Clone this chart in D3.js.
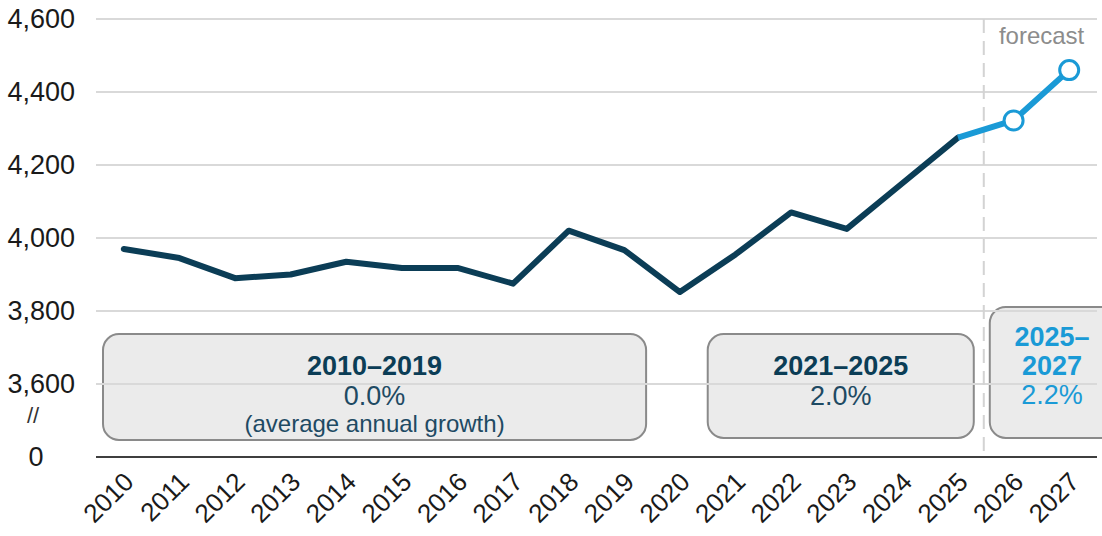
<!DOCTYPE html>
<html><head><meta charset="utf-8">
<script src="https://cdn.jsdelivr.net/npm/d3@7"></script>
<style>
html,body{margin:0;padding:0;background:#fff;}
svg{display:block;font-family:"Liberation Sans",Arial,sans-serif;}
</style></head>
<body><svg id="c" width="1102" height="536"></svg>
<script>
const years = ["2010","2011","2012","2013","2014","2015","2016","2017","2018","2019","2020","2021","2022","2023","2024","2025","2026","2027"];
const actualYears = years.slice(0, 16);
const actualValues = [3970, 3945, 3890, 3900, 3935, 3918, 3918, 3875, 4020, 3967, 3852, 3955, 4070, 4025, 4150, 4275];
const forecastYears = ["2025","2026","2027"];
const forecastValues = [4275, 4322, 4460];
const yTickValues = [3400, 3600, 3800, 4000, 4200, 4400, 4600];
const yTickLabels = ["0", "3,600", "3,800", "4,000", "4,200", "4,400", "4,600"];
const periodStart = ["2010", "2021", "2026"];
const periodEnd = ["2019", "2025", "2027"];
const periodTitle = [["2010–2019"], ["2021–2025"], ["2025–", "2027"]];
const periodGrowth = ["0.0%", "2.0%", "2.2%"];
const periodNote = ["(average annual growth)", "", ""];

const dark = "#0b3d56", blue = "#1a9ad6";
const svg = d3.select("#c");
const L = 96, R = 1097, T = 19, B = 457;
const x = d3.scaleBand().domain(years).range([L, R]).padding(0);
const bw = x.bandwidth();
const cx = d => x(d) + bw / 2;
const y = d3.scaleLinear().domain([3400, 4600]).range([B, T]);

// boxes
const boxGeo = [
  {x0: x(periodStart[0]) + 7, x1: x(periodEnd[0]) + bw - 6, y0: 334, y1: 440},
  {x0: x(periodStart[1]) + 0, x1: x(periodEnd[1]) + bw - 12, y0: 334, y1: 438},
  {x0: x(periodStart[2]) + 4, x1: 1120, y0: 307, y1: 438}
];
svg.append("g").selectAll("rect").data(boxGeo).join("rect")
  .attr("x", d => d.x0).attr("y", d => d.y0)
  .attr("width", d => d.x1 - d.x0).attr("height", d => d.y1 - d.y0)
  .attr("rx", 16).attr("ry", 16)
  .attr("fill", "#ebebeb").attr("stroke", "#8a8a8a").attr("stroke-width", 2);

// gridlines
svg.append("g").selectAll("line").data(yTickValues.slice(1)).join("line")
  .attr("x1", L).attr("x2", R).attr("y1", d => y(d)).attr("y2", d => y(d))
  .attr("stroke", "#d9d9d9").attr("stroke-width", 2);

// forecast divider
const divX = x("2026");
svg.append("line").attr("x1", divX - 2).attr("x2", divX - 2).attr("y1", T).attr("y2", B)
  .attr("stroke", "#d3d3d3").attr("stroke-width", 2).attr("stroke-dasharray", "14,8");
svg.append("text").attr("x", cx("2026") + 28).attr("y", 44).attr("text-anchor", "middle")
  .attr("font-size", 24).attr("fill", "#8c8c8c").text("forecast");

// baseline
svg.append("line").attr("x1", L).attr("x2", R).attr("y1", B).attr("y2", B)
  .attr("stroke", "#3f3f3f").attr("stroke-width", 2);

// y labels
svg.append("g").selectAll("text").data(yTickValues).join("text")
  .attr("x", (d, i) => i === 0 ? 36 : 75)
  .attr("y", d => y(d)).attr("dy", "0.35em")
  .attr("text-anchor", (d, i) => i === 0 ? "middle" : "end")
  .attr("font-size", 27).attr("fill", "#1a1a1a")
  .text((d, i) => yTickLabels[i]);
svg.append("text").attr("x", 33).attr("y", 423).attr("text-anchor", "middle")
  .attr("font-size", 22).attr("fill", "#333").text("//");

// x labels
svg.append("g").selectAll("text").data(years).join("text")
  .attr("transform", d => `translate(${cx(d) + 5},${477}) rotate(-45)`)
  .attr("text-anchor", "end").attr("dy", "0.35em")
  .attr("font-size", 26).attr("fill", "#1a1a1a").text(d => d);

// lines
const line = d3.line().x(d => cx(d[0])).y(d => y(d[1]));
svg.append("path").datum(actualYears.map((d, i) => [d, actualValues[i]]))
  .attr("d", line).attr("fill", "none").attr("stroke", dark).attr("stroke-width", 6)
  .attr("stroke-linejoin", "round").attr("stroke-linecap", "round");
svg.append("path").datum(forecastYears.map((d, i) => [d, forecastValues[i]]))
  .attr("d", line).attr("fill", "none").attr("stroke", blue).attr("stroke-width", 6)
  .attr("stroke-linejoin", "round");
svg.append("g").selectAll("circle").data(forecastYears.slice(1).map((d, i) => [d, forecastValues[i + 1]])).join("circle")
  .attr("cx", d => cx(d[0])).attr("cy", d => y(d[1])).attr("r", 9.5)
  .attr("fill", "#fff").attr("stroke", blue).attr("stroke-width", 3);

// box texts
const tcx = [(boxGeo[0].x0 + boxGeo[0].x1) / 2, (boxGeo[1].x0 + boxGeo[1].x1) / 2, 1052];
const titleY = [[375], [375], [346, 375]];
const growthY = [405, 405, 404];
const col = [dark, dark, blue];
periodTitle.forEach((lines, i) => {
  lines.forEach((t, j) => {
    svg.append("text").attr("x", tcx[i]).attr("y", titleY[i][j]).attr("text-anchor", "middle")
      .attr("font-size", 27).attr("font-weight", "bold").attr("fill", col[i]).text(t);
  });
  svg.append("text").attr("x", tcx[i]).attr("y", growthY[i]).attr("text-anchor", "middle")
    .attr("font-size", 27).attr("fill", i === 2 ? blue : "#1e4a63").text(periodGrowth[i]);
  if (periodNote[i]) {
    svg.append("text").attr("x", tcx[i]).attr("y", 432).attr("text-anchor", "middle")
      .attr("font-size", 24).attr("fill", "#1e4a63").text(periodNote[i]);
  }
});
</script></body></html>
